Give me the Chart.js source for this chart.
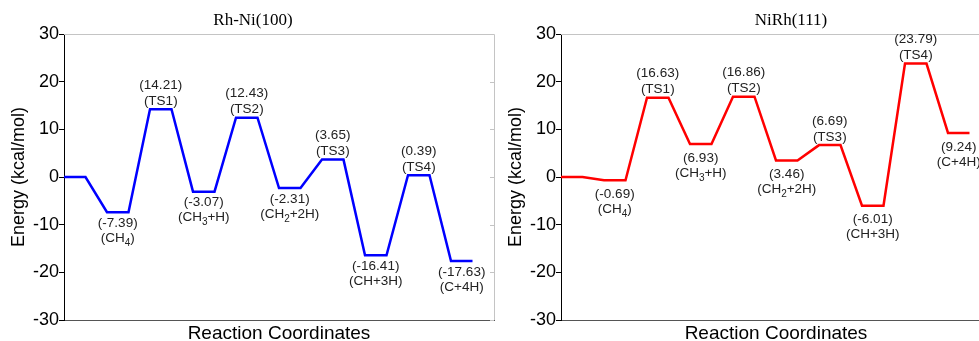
<!DOCTYPE html>
<html>
<head>
<meta charset="utf-8">
<script src="https://cdn.jsdelivr.net/npm/chart.js@4/dist/chart.umd.min.js"></script>
<style>
html, body { margin: 0; padding: 0; background: #fff; overflow: hidden; width: 979px; height: 341px; }
.panel { position: absolute; top: 0; width: 500px; height: 345px; }
#left { left: 0; }
#right { left: 497px; }
</style>
</head>
<body>
<div class="panel" id="left"><canvas id="chartA" width="500" height="345"></canvas></div>
<div class="panel" id="right"><canvas id="chartB" width="500" height="345"></canvas></div>
<script>
// Estados a lo largo de la coordenada de reacción ("_n" = subíndice)
const states = ['', '(CH_4)', '(TS1)', '(CH_3+H)', '(TS2)', '(CH_2+2H)', '(TS3)', '(CH+3H)', '(TS4)', '(C+4H)'];
const rhNi100 = [0, -7.39, 14.21, -3.07, 12.43, -2.31, 3.65, -16.41, 0.39, -17.63];
const niRh111 = [0, -0.69, 16.63, 6.93, 16.86, 3.46, 6.69, -6.01, 23.79, 9.24];
const yTicks = [-30, -20, -10, 0, 10, 20, 30];

// Cada estado es un escalón horizontal de medio paso
function profile(values) {
    const pts = [];
    values.forEach((v, i) => {
        pts.push({ x: i, y: v });
        pts.push({ x: i + 0.5, y: v });
    });
    return pts;
}

function drawRich(ctx, text, cx, cy) {
    const parts = text.split(/_(\d)/);
    const fonts = parts.map((p, i) => i % 2 ? '10px Arial' : '13.5px Arial');
    let total = 0;
    const widths = parts.map((p, i) => { ctx.font = fonts[i]; const w = ctx.measureText(p).width; total += w; return w; });
    let x = cx - total / 2;
    ctx.textAlign = 'left';
    parts.forEach((p, i) => {
        ctx.font = fonts[i];
        ctx.fillText(p, x, i % 2 ? cy + 5 : cy);
        x += widths[i];
    });
}

const energyPlugin = {
    id: 'energyLabels',
    afterDraw(chart, args, opts) {
        const { ctx, chartArea: a, scales: { x, y } } = chart;
        ctx.save();
        // Marco superior y derecho
        ctx.strokeStyle = '#c4c4c4';
        ctx.lineWidth = 1;
        ctx.beginPath();
        ctx.moveTo(a.left, a.top + 0.5);
        ctx.lineTo(a.right + 0.5, a.top + 0.5);
        ctx.lineTo(a.right + 0.5, a.bottom);
        yTicks.forEach(t => {
            const py = Math.round(y.getPixelForValue(t)) + 0.5;
            ctx.moveTo(a.right - 4, py);
            ctx.lineTo(a.right, py);
        });
        ctx.stroke();

        // Título
        ctx.fillStyle = '#000';
        ctx.font = '17px "Times New Roman", "Liberation Serif", serif';
        ctx.textAlign = 'center';
        ctx.textBaseline = 'middle';
        ctx.fillText(opts.title, opts.titleX, 21);

        // Etiquetas de energía
        ctx.fillStyle = '#222';
        const values = chart.data.datasets[0].values;
        values.forEach((v, i) => {
            if (!states[i]) return;
            const cx = x.getPixelForValue(i + 0.25);
            const py = y.getPixelForValue(v);
            const valText = '(' + v.toFixed(2) + ')';
            ctx.textAlign = 'center';
            ctx.font = '13.5px Arial';
            if (states[i].startsWith('(TS')) {
                ctx.fillText(valText, cx, py - 24);
                drawRich(ctx, states[i], cx, py - 8);
            } else {
                ctx.fillText(valText, cx, py + opts.gap);
                drawRich(ctx, states[i], cx, py + opts.gap + 15);
            }
        });
        ctx.restore();
    }
};

function makeChart(id, values, color, title, titleX, gap) {
    return new Chart(document.getElementById(id), {
        type: 'line',
        data: {
            datasets: [{
                data: profile(values),
                values: values,
                borderColor: color,
                borderWidth: 2.5,
                pointRadius: 0,
                tension: 0,
                fill: false
            }]
        },
        options: {
            responsive: false,
            animation: false,
            layout: { padding: { top: 34, right: 6, left: 0, bottom: 0 } },
            scales: {
                x: {
                    type: 'linear',
                    min: 0,
                    max: 10,
                    ticks: { display: false },
                    grid: { drawOnChartArea: false, drawTicks: false },
                    border: { color: '#555', width: 1 },
                    title: { display: true, text: 'Reaction Coordinates', color: '#000', font: { family: 'Arial', size: 19 }, padding: 0 },
                    afterFit: s => { s.height = 25; }
                },
                y: {
                    min: -30,
                    max: 30,
                    afterBuildTicks: s => { s.ticks = yTicks.map(v => ({ value: v })); },
                    ticks: { color: '#000', font: { family: 'Arial', size: 18 }, padding: 0 },
                    grid: { drawOnChartArea: false, tickLength: 5, color: '#000' },
                    border: { color: '#000', width: 1 },
                    title: { display: true, text: 'Energy (kcal/mol)', color: '#000', font: { family: 'Arial', size: 18 }, padding: { top: 8, bottom: 0 } },
                    afterFit: s => { s.width = 64; }
                }
            },
            plugins: {
                legend: { display: false },
                tooltip: { enabled: false },
                energyLabels: { title: title, titleX: titleX, gap: gap }
            }
        },
        plugins: [energyPlugin]
    });
}

makeChart('chartA', rhNi100, '#0000ff', 'Rh-Ni(100)', 253, 11);
makeChart('chartB', niRh111, '#ff0000', 'NiRh(111)', 294, 14);
</script>
</body>
</html>
